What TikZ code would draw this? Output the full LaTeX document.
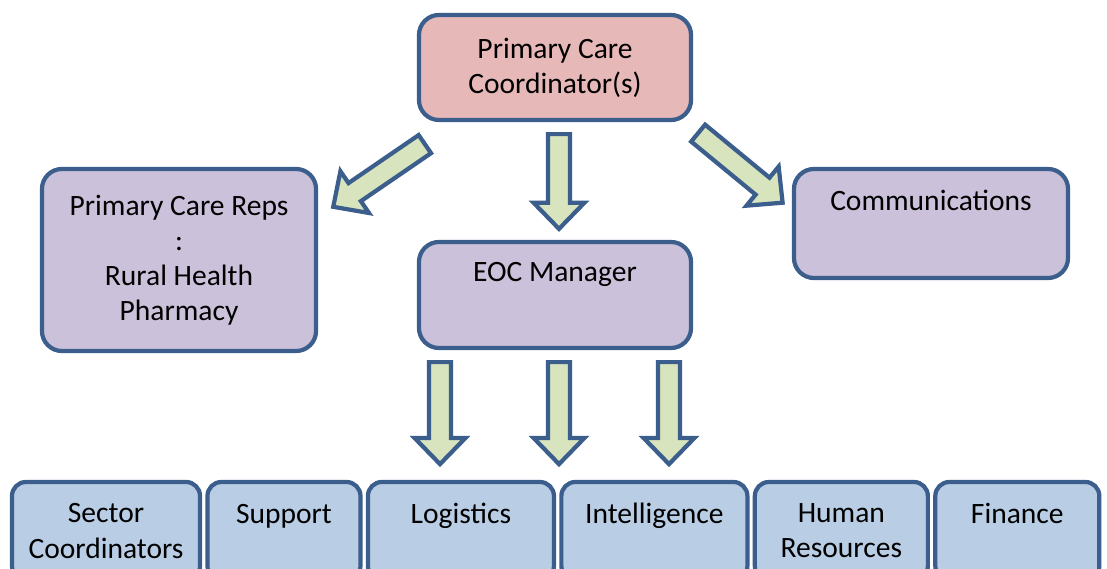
\documentclass[tikz,border=0pt]{standalone}
\usepackage{fontspec}
\setmainfont{Carlito}
\usepackage{xcolor}
\usepackage{tikz}
\usetikzlibrary{calc}
\usetikzlibrary{positioning}

\definecolor{edgeblue}{HTML}{3B5E8C}
\definecolor{pinkfill}{HTML}{E6B9B8}
\definecolor{lilacfill}{HTML}{CCC1DA}
\definecolor{bluefill}{HTML}{B9CDE5}
\definecolor{greenfill}{HTML}{D7E4BD}

\tikzset{
	box/.style={draw=edgeblue, line width=3pt, rounded corners=0.5cm, align=center, inner sep=0pt,
		font=\fontsize{21}{25}\selectfont},
	topbox/.style={box, fill=lilacfill, minimum width=6.85cm},
	unitbox/.style={box, fill=bluefill, rounded corners=0.35cm, minimum height=2.45cm},
	blockarrow/.style={draw=edgeblue, fill=greenfill, line width=3pt, line join=miter}
}

% block arrow from #1 to #2
\newcommand{\fatarrow}[2]{%
	\path[blockarrow] let \p1=(#1), \p2=(#2),
		\n1={atan2(\y2-\y1,\x2-\x1)}, \n2={veclen(\x2-\x1,\y2-\y1)-18.5pt}
		in [shift={(\p1)}, rotate=\n1]
		(0pt,-7.8pt) -- (\n2,-7.8pt) -- (\n2,-18pt) -- ({\n2+18.5pt},0pt)
		-- (\n2,18pt) -- (\n2,7.8pt) -- (0pt,7.8pt) -- cycle;}

\begin{document}
\begin{tikzpicture}[x=0.025cm, y=-0.025cm]
		\clip (0,0) rectangle (1107,569);
		%%nodes
		\node[box, fill=pinkfill, minimum width=6.8cm, minimum height=2.625cm] (pcc) at (555,67.5) {Primary Care\\Coordinator(s)};
		\node[topbox, minimum height=4.55cm] (reps) at (179,260) {Primary Care Reps\\:\\Rural Health\\Pharmacy};
		\node[topbox, minimum height=2.725cm] (comm) at (931,223.5) {Communications\\[8pt]\mbox{}};
		\node[topbox, minimum width=6.8cm, minimum height=2.65cm] (eoc) at (555,295) {EOC Manager\\[8pt]\mbox{}};
		%% bottom row
		\node[unitbox, minimum width=4.7cm] (sector) at (106,531) {Sector\\Coordinators};
		\node[unitbox, minimum width=3.825cm, right=0.08cm of sector] (support) {Support\\\mbox{}};
		\node[unitbox, minimum width=4.65cm, right=0.08cm of support] (logistics) {Logistics\\\mbox{}};
		\node[unitbox, minimum width=4.65cm, right=0.08cm of logistics] (intel) {Intelligence\\\mbox{}};
		\node[unitbox, minimum width=4.325cm, right=0.08cm of intel] (hr) {Human\\Resources};
		\node[unitbox, minimum width=4.1cm, right=0.08cm of hr] (finance) {Finance\\\mbox{}};
		%% arrows
		\fatarrow{$(pcc.south west)+(8,22)$}{$(reps.north east)+(15,40)$}
		\fatarrow{$(pcc.south)+(4,12)$}{$(eoc.north)+(4,-11)$}
		\fatarrow{$(pcc.south east)+(5,11)$}{$(comm.north west)+(-9,36)$}
		\fatarrow{$(eoc.south)+(-115,12)$}{$(eoc.south)+(-115,114)$}
		\fatarrow{$(eoc.south)+(4,12)$}{$(eoc.south)+(4,114)$}
		\fatarrow{$(eoc.south)+(114,12)$}{$(eoc.south)+(114,114)$}
	\end{tikzpicture}
\end{document}
